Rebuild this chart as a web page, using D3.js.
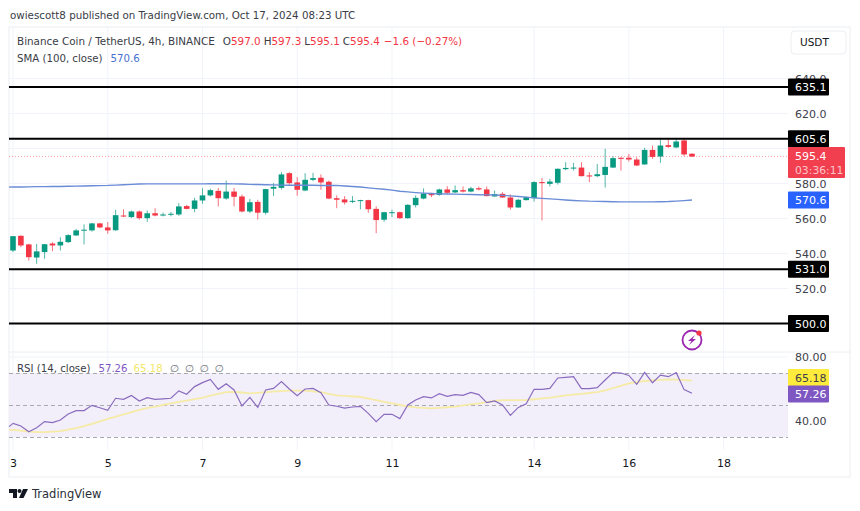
<!DOCTYPE html>
<html>
<head>
<meta charset="utf-8">
<script src="https://cdn.jsdelivr.net/npm/d3@7"></script>
<style>
    html, body { margin: 0; padding: 0; background: #fff; }
    svg { display: block; font-family: "DejaVu Sans", sans-serif; }
    .axis path, .axis line { display: none; }
</style>
</head>
<body>
<div id="chart"></div>
<script>
(function() {
    "use strict";

    var opens = [541.7,550.1,545.2,537.7,540.8,545.7,544.6,546.5,550.3,553.2,553.2,557.2,554.9,553.3,561.7,560.8,564.0,560.2,563.0,561.7,562.3,562.3,567.1,565.5,570.3,573.2,575.8,571.4,575.4,572.6,564.0,569.5,563.3,577.0,577.5,585.9,580.6,576.0,582.1,583.3,581.0,571.6,570.9,569.5,570.1,570.5,565.5,559.3,563.3,563.6,560.2,567.6,571.4,574.5,573.5,576.6,574.9,576.2,575.4,577.3,576.6,572.6,574.1,572.0,566.3,570.5,571.6,580.8,579.8,580.4,588.2,588.6,589.1,584.6,584.2,584.9,589.1,594.7,594.7,593.7,590.9,599.2,595.4,601.9,600.6,604.6,597.0];
    var highs = [549.9,550.4,545.5,545.5,545.5,546.5,549.3,551.0,554.0,556.6,557.5,557.5,558.0,565.0,565.2,564.5,564.6,564.6,565.9,563.4,563.8,568.8,567.8,571.8,577.3,577.0,577.5,581.7,577.5,573.7,571.2,570.7,577.0,580.2,586.5,586.5,583.6,585.9,586.1,585.2,581.7,573.2,572.8,572.8,570.7,570.7,567.0,563.8,565.0,564.0,568.2,573.2,577.2,574.7,577.0,578.5,578.9,578.3,578.1,578.3,578.3,576.0,575.0,573.7,571.2,572.8,581.3,583.2,582.7,588.6,592.2,591.8,592.2,586.5,591.2,599.8,595.6,595.0,596.9,595.0,600.4,601.7,605.5,605.5,606.0,605.5,597.3];
    var lows = [540.8,543.6,536.0,534.1,537.0,541.3,541.7,546.0,550.0,545.2,552.5,554.5,551.3,553.0,560.8,560.2,559.3,558.1,561.2,561.2,561.2,561.5,565.2,563.6,568.4,572.6,566.9,570.7,566.9,563.5,563.1,559.4,562.3,572.8,576.6,578.9,573.0,575.6,581.3,576.4,571.0,565.9,568.0,568.8,565.2,563.3,551.6,558.1,560.8,559.8,559.8,566.3,571.0,572.2,573.0,574.1,574.5,574.9,575.0,576.0,572.6,572.4,571.8,565.0,566.0,570.3,569.7,558.9,578.3,579.4,587.6,587.4,584.0,580.8,583.6,577.7,588.8,587.4,592.6,589.9,590.7,594.1,591.8,600.4,600.2,595.6,595.1];
    var closes = [549.9,544.6,537.9,541.2,545.3,544.6,546.7,550.5,553.2,553.6,557.2,554.9,553.2,561.9,561.2,564.0,560.2,563.0,561.7,562.3,562.7,566.9,565.5,570.3,573.2,576.2,571.6,575.4,572.4,564.0,569.3,563.3,576.8,578.1,585.2,580.2,576.4,582.1,583.1,580.6,571.4,570.7,569.2,570.1,570.5,565.3,559.1,563.6,563.6,560.2,567.8,571.8,574.3,573.3,576.6,574.7,576.2,575.4,577.2,576.6,572.8,573.9,572.0,566.3,570.7,572.2,580.8,580.2,581.1,588.4,588.9,589.1,584.2,584.0,585.3,589.5,594.5,594.1,593.7,590.3,599.2,595.2,601.7,600.9,604.0,596.6,595.4];
    var smaValues = [578.0,578.0,578.1,578.2,578.2,578.3,578.3,578.4,578.5,578.6,578.7,578.8,578.9,579.1,579.3,579.5,579.7,579.8,579.8,579.8,579.8,579.8,579.8,579.8,579.8,579.9,579.9,579.9,579.8,579.7,579.5,579.4,579.3,579.2,579.1,579.0,579.0,579.0,579.0,578.9,578.9,578.9,578.6,578.3,578.0,577.5,577.1,576.7,576.2,575.6,575.2,574.8,574.5,574.3,574.1,574.0,573.9,573.8,573.7,573.6,573.5,573.4,573.2,572.9,572.6,572.2,571.8,571.5,571.2,570.9,570.6,570.3,570.1,569.9,569.8,569.7,569.6,569.5,569.5,569.5,569.5,569.5,569.6,569.7,569.9,570.2,570.6];
    var rsiValues = [38.5,36.9,33.3,35.8,39.6,39.0,40.6,44.4,46.5,46.5,49.8,48.3,46.7,54.2,53.5,56.0,52.5,54.6,53.5,53.8,54.2,58.8,56.7,61.5,64.0,66.0,59.8,63.3,59.4,49.4,54.8,48.5,59.4,60.4,64.6,60.0,55.8,60.0,60.4,57.7,50.0,49.2,48.1,48.75,49.2,44.8,39.6,44.2,44.2,41.5,50.0,53.1,55.2,54.4,57.1,55.4,56.5,56.0,57.9,56.5,51.5,52.5,50.0,43.5,48.5,50.8,59.8,59.8,60.4,66.9,67.3,67.7,60.2,60.2,60.8,65.6,70.2,70.0,68.5,62.9,70.4,63.9,68.7,67.7,70.2,59.6,57.3];
    var rsiMaValues = [34.4,34.0,33.4,33.0,33.0,33.4,33.7,34.6,35.6,36.8,38.2,39.7,41.3,42.7,44.1,45.5,46.9,48.0,49.0,50.0,51.0,51.9,52.8,53.7,54.6,55.8,57.0,58.1,58.2,57.8,57.3,57.6,58.0,58.4,58.7,59.0,59.0,59.0,58.5,58.0,57.0,56.0,55.7,55.3,55.0,54.0,53.0,52.0,51.0,50.0,49.2,48.5,48.2,47.9,48.2,48.6,49.0,49.7,50.4,51.0,51.8,52.5,53.1,53.1,53.1,53.1,53.6,54.1,54.6,55.3,56.0,56.5,57.0,57.5,58.0,59.2,60.5,62.0,63.5,64.3,65.0,65.4,65.7,66.0,65.8,65.5,65.2];
    var rsiEdgeValues = [36.5, 34.4];
    var dayTicks = [3, 5, 7, 9, 11, 14, 16, 18];
    var dayTickIndexes = [0, 12, 24, 36, 48, 66, 78, 90];
    var priceTicks = [520, 540, 560, 580, 620, 640];
    var rsiTicks = [40, 80];
    var rsiBands = [70, 50, 30];
    var levels = [635.1, 605.6, 531.0, 500.0];
    var ohlcLabels = [["O", "597.0"], ["H", "597.3"], ["L", "595.1"], ["C", "595.4"]];

    var upColor = "#089981", downColor = "#f23645", textColor = "#131722";
    var smaColor = "#6a8bd6", rsiColor = "#8a6cbf", rsiMaColor = "#f6eba6";
    var left = 9, plotRight = 788, right = 850, top = 27, bottom = 477, separator = 352;

    var svg = d3.select("#chart").append("svg").attr("width", 860).attr("height", 511);

    var x = d3.scaleLinear().domain([0, 86]).range([13, 692]);
    var yPrice = d3.scaleLinear().domain([500, 640]).range([323.5, 78.5]);
    var yRsi = d3.scaleLinear().domain([30, 80]).range([437, 357]);

    // grid and frame
    svg.append("g").selectAll("line").data(dayTickIndexes).enter().append("line")
        .attr("x1", function (d) { return x(d); })
        .attr("x2", function (d) { return x(d); })
        .attr("y1", top).attr("y2", 450)
        .attr("stroke", "#f0f3fa");
    svg.append("g").selectAll("line").data(d3.range(500, 660, 20)).enter().append("line")
        .attr("x1", left).attr("x2", plotRight)
        .attr("y1", function (d) { return yPrice(d); })
        .attr("y2", function (d) { return yPrice(d); })
        .attr("stroke", "#f0f3fa");
    svg.append("line").attr("x1", left).attr("x2", plotRight)
        .attr("y1", yRsi(80)).attr("y2", yRsi(80)).attr("stroke", "#f0f3fa");
    svg.append("line").attr("x1", left).attr("x2", right)
        .attr("y1", separator).attr("y2", separator).attr("stroke", "#eceef2");
    svg.append("rect")
        .attr("x", left).attr("y", top)
        .attr("width", right - left).attr("height", bottom - top)
        .attr("fill", "none").attr("stroke", "#eceef2");

    // price line
    svg.append("line").attr("x1", left).attr("x2", plotRight)
        .attr("y1", yPrice(595.4)).attr("y2", yPrice(595.4))
        .attr("stroke", downColor).attr("stroke-opacity", 0.45)
        .attr("stroke-dasharray", "1 2");

    // candles
    var candles = svg.append("g").selectAll("g").data(d3.range(opens.length)).enter().append("g");
    function candleColor(i) {
        return closes[i] >= opens[i] ? upColor : downColor;
    }
    candles.append("line")
        .attr("x1", function (i) { return x(i); })
        .attr("x2", function (i) { return x(i); })
        .attr("y1", function (i) { return yPrice(highs[i]); })
        .attr("y2", function (i) { return yPrice(lows[i]); })
        .attr("stroke", candleColor)
        .attr("stroke-opacity", 0.7);
    candles.append("rect")
        .attr("x", function (i) { return x(i) - 2.8; })
        .attr("width", 5.6)
        .attr("y", function (i) { return yPrice(Math.max(opens[i], closes[i])); })
        .attr("height", function (i) { return Math.max(1, Math.abs(yPrice(opens[i]) - yPrice(closes[i]))); })
        .attr("fill", candleColor);

    // sma
    svg.append("path").datum(smaValues)
        .attr("fill", "none").attr("stroke", smaColor).attr("stroke-width", 1.4)
        .attr("d", d3.line()
            .x(function (d, i) { return x(i); })
            .y(function (d) { return yPrice(d); }));
    svg.append("line").attr("x1", left).attr("x2", x(0))
        .attr("y1", yPrice(smaValues[0])).attr("y2", yPrice(smaValues[0]))
        .attr("stroke", smaColor).attr("stroke-width", 1.4);

    // support and resistance levels
    svg.append("g").selectAll("line").data(levels).enter().append("line")
        .attr("x1", left).attr("x2", plotRight)
        .attr("y1", function (d) { return yPrice(d); })
        .attr("y2", function (d) { return yPrice(d); })
        .attr("stroke", "#000").attr("stroke-width", 2);

    // rsi pane
    svg.append("rect")
        .attr("x", left).attr("width", plotRight - left)
        .attr("y", yRsi(70)).attr("height", yRsi(30) - yRsi(70))
        .attr("fill", "#f2eefa");
    svg.append("g").selectAll("line").data(rsiBands).enter().append("line")
        .attr("x1", left).attr("x2", plotRight)
        .attr("y1", function (d) { return yRsi(d) + 0.5; })
        .attr("y2", function (d) { return yRsi(d) + 0.5; })
        .attr("stroke", "#a9a9b2").attr("stroke-dasharray", "4 3");
    var rsiLine = d3.line()
        .x(function (d, i) { return x(i); })
        .y(function (d) { return yRsi(d); });
    svg.append("path").datum(rsiMaValues)
        .attr("fill", "none").attr("stroke", rsiMaColor).attr("stroke-width", 1.8)
        .attr("d", rsiLine);
    svg.append("line").attr("x1", left).attr("x2", x(0))
        .attr("y1", yRsi(rsiEdgeValues[1])).attr("y2", yRsi(rsiMaValues[0]))
        .attr("stroke", rsiMaColor).attr("stroke-width", 1.8);
    svg.append("path").datum(rsiValues)
        .attr("fill", "none").attr("stroke", rsiColor).attr("stroke-width", 1.2)
        .attr("d", rsiLine);
    svg.append("line").attr("x1", left).attr("x2", x(0))
        .attr("y1", yRsi(rsiEdgeValues[0])).attr("y2", yRsi(rsiValues[0]))
        .attr("stroke", rsiColor).attr("stroke-width", 1.2);

    // axes
    var priceAxis = svg.append("g").attr("class", "axis")
        .attr("transform", "translate(795,0)")
        .call(d3.axisRight(yPrice).tickValues(priceTicks).tickSize(0).tickPadding(0)
            .tickFormat(d3.format(".1f")));
    var rsiAxis = svg.append("g").attr("class", "axis")
        .attr("transform", "translate(795,0)")
        .call(d3.axisRight(yRsi).tickValues(rsiTicks).tickSize(0).tickPadding(0)
            .tickFormat(d3.format(".2f")));
    var timeAxis = svg.append("g").attr("class", "axis")
        .attr("transform", "translate(0,459.5)")
        .call(d3.axisBottom(x).tickValues(dayTickIndexes).tickSize(0).tickPadding(0)
            .tickFormat(function (d, i) { return dayTicks[i]; }));
    [priceAxis, rsiAxis].forEach(function (axis) {
        axis.selectAll("text").attr("font-size", 11).attr("font-family", "DejaVu Sans").attr("fill", "#3d404a");
    });
    timeAxis.selectAll("text").attr("font-size", 11).attr("font-family", "DejaVu Sans").attr("fill", textColor);

    // value tags on the axis
    function tag(y, height, width, fill, color, label) {
        svg.append("rect")
            .attr("x", plotRight).attr("y", y - height / 2)
            .attr("width", width).attr("height", height)
            .attr("rx", 1).attr("fill", fill);
        svg.append("text")
            .attr("x", 795).attr("y", y + 4)
            .attr("font-size", 11).attr("font-weight", 500)
            .attr("fill", color).text(label);
    }
    levels.forEach(function (level) {
        tag(yPrice(level), 17, 41, "#000", "#fff", level.toFixed(1));
    });
    svg.append("rect").attr("x", plotRight).attr("y", 147)
        .attr("width", 57).attr("height", 31).attr("rx", 1).attr("fill", "#f23f4f");
    svg.append("text").attr("x", 795).attr("y", 160).attr("font-size", 11).attr("fill", "#fff").text("595.4");
    svg.append("text").attr("x", 795).attr("y", 174).attr("font-size", 10.8).attr("fill", "#fbc4ca").text("03:36:11");
    tag(yPrice(570.6), 17, 41, "#2962ff", "#fff", "570.6");
    tag(377.5, 17, 41, "#ffeb3b", "#3d404a", "65.18");
    tag(394, 17, 41, "#7e57c2", "#fff", "57.26");

    // USDT button
    svg.append("rect").attr("x", 791).attr("y", 31)
        .attr("width", 55).attr("height", 23).attr("rx", 4)
        .attr("fill", "#fff").attr("stroke", "#eceef2");
    svg.append("text").attr("x", 800).attr("y", 46).attr("font-size", 10.5).attr("fill", textColor).text("USDT");

    // header and legends
    svg.append("text").attr("x", 10).attr("y", 19).attr("font-size", 10.3)
        .attr("fill", "#3a3d46")
        .text("owiescott8 published on TradingView.com, Oct 17, 2024 08:23 UTC");

    var legend = svg.append("text").attr("x", 17).attr("y", 45).attr("font-size", 10.4).attr("fill", "#3a3d46");
    legend.append("tspan").text("Binance Coin / TetherUS, 4h, BINANCE");
    ohlcLabels.forEach(function (pair, i) {
        legend.append("tspan").attr("dx", i === 0 ? 8 : 3).text(pair[0]);
        legend.append("tspan").attr("fill", downColor).text(pair[1]);
    });
    legend.append("tspan").attr("dx", 4).attr("fill", downColor).text("\u22121.6 (\u22120.27%)");

    var smaLegend = svg.append("text").attr("x", 17).attr("y", 62).attr("font-size", 10.2).attr("fill", "#3a3d46");
    smaLegend.append("tspan").text("SMA (100, close)");
    smaLegend.append("tspan").attr("dx", 8).attr("fill", "#4a6fd0").text("570.6");

    var rsiLegend = svg.append("text").attr("x", 17).attr("y", 372).attr("font-size", 10.2).attr("fill", "#3a3d46");
    rsiLegend.append("tspan").text("RSI (14, close)");
    rsiLegend.append("tspan").attr("dx", 8).attr("fill", "#7e57c2").text("57.26");
    rsiLegend.append("tspan").attr("dx", 6).attr("fill", "#f3e76a").text("65.18");
    rsiLegend.append("tspan").attr("dx", 7).attr("fill", "#6a6d78").text("\u2205");
    rsiLegend.append("tspan").attr("dx", 6).attr("fill", "#6a6d78").text("\u2205");
    rsiLegend.append("tspan").attr("dx", 6).attr("fill", "#6a6d78").text("\u2205");
    rsiLegend.append("tspan").attr("dx", 6).attr("fill", "#6a6d78").text("\u2205");

    // lightning badge
    var badge = svg.append("g").attr("transform", "translate(692,340)");
    badge.append("circle").attr("r", 9.5).attr("fill", "#fff").attr("stroke", "#9c27b0").attr("stroke-width", 1.8);
    badge.append("path").attr("d", "M3,-5 L-4,1 L-0.5,1 L-3,5 L4,-1 L0.5,-1 Z").attr("fill", "#9c27b0");
    badge.append("circle").attr("cx", 7).attr("cy", -7).attr("r", 2.6).attr("fill", "#f23645");

    // logo
    var logo = svg.append("g").attr("transform", "translate(9,489)").attr("fill", "#131722");
    logo.append("path").attr("d", "M0,0 H8 V9 H4 V4 H0 Z");
    logo.append("circle").attr("cx", 10.5).attr("cy", 2).attr("r", 2);
    logo.append("path").attr("d", "M14,0 H19 L14.5,9 H10 Z");
    svg.append("text").attr("x", 32).attr("y", 498).attr("font-size", 11.5)
        .attr("fill", "#2a2e39").text("TradingView");
}).call(this);
</script>
</body>
</html>
